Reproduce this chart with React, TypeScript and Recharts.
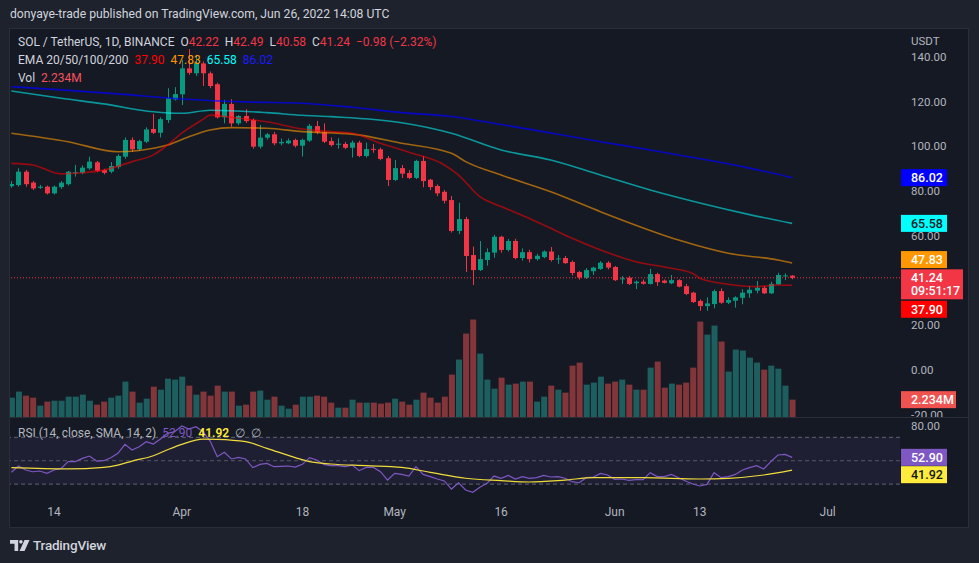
import React from 'react';
import { ComposedChart, Bar, Line, XAxis, YAxis, ReferenceLine, ReferenceArea } from 'recharts';

const FONT = 'Roboto, "Noto Sans", Arial, sans-serif';
const TEXT = '#d1d4dc';
const AXIS = '#b2b5be';
const BG = '#151924';
const FRAME = '#1e222d';
const BORDER = '#2a2e39';
const UP = '#089981';
const DOWN = '#f23645';
const VOL_UP = 'rgba(38,166,154,0.5)';
const VOL_DOWN = 'rgba(239,83,80,0.5)';

// daily candles, index 0 = 8 Mar 2022 ... 110 = 26 Jun 2022
const opens = [
  82.2, 82.7, 88.7, 83.8, 81.5, 82.0, 79.0, 81.8, 83.1, 88.0,
  88.2, 90.2, 92.9, 89.4, 88.7, 90.9, 95.4, 102.9, 98.7, 102.1,
  107.8, 106.1, 111.8, 121.0, 123.3, 134.9, 132.7, 137.1, 132.7, 127.8,
  113.0, 119.0, 110.3, 113.6, 111.8, 99.9, 103.9, 105.4, 101.4, 101.4,
  102.9, 100.3, 102.6, 109.1, 106.3, 102.4, 101.0, 101.1, 99.4, 101.7,
  95.7, 98.9, 98.7, 94.7, 85.0, 90.3, 88.1, 85.9, 93.5, 85.1,
  82.3, 79.7, 76.0, 62.2, 67.5, 51.4, 44.7, 49.2, 52.5, 59.6,
  53.7, 57.7, 50.1, 52.7, 49.6, 50.5, 53.0, 49.5, 50.1, 48.3,
  43.8, 41.3, 44.2, 45.2, 48.0, 46.1, 40.6, 41.3, 38.8, 39.5,
  38.5, 42.9, 40.0, 38.8, 40.2, 37.5, 34.6, 30.9, 28.6, 29.5,
  35.3, 30.1, 31.0, 32.3, 34.3, 35.5, 36.8, 34.3, 38.3, 42.0,
  42.22,
];
const highs = [
  84.5, 90.2, 89.5, 84.5, 82.8, 82.5, 82.5, 84.5, 89.0, 91.7,
  91.5, 95.4, 93.5, 90.0, 93.0, 96.5, 104.0, 104.0, 103.0, 108.5,
  114.5, 113.0, 126.0, 126.5, 138.6, 143.5, 140.9, 138.0, 133.5, 128.5,
  120.8, 121.1, 114.0, 116.6, 112.5, 109.6, 106.0, 106.5, 103.5, 103.5,
  103.5, 103.5, 110.0, 111.4, 110.3, 104.0, 103.6, 102.0, 102.6, 102.5,
  101.7, 101.1, 99.4, 95.7, 93.9, 91.7, 89.4, 94.0, 95.7, 85.5,
  83.0, 80.5, 77.8, 74.8, 68.5, 55.2, 57.7, 54.4, 60.5, 60.0,
  58.6, 58.7, 54.4, 53.8, 52.0, 53.5, 55.0, 51.4, 51.0, 49.0,
  44.3, 45.6, 46.2, 48.7, 48.7, 46.5, 42.0, 42.0, 40.0, 40.5,
  45.2, 43.5, 40.5, 42.5, 40.6, 38.5, 35.0, 31.6, 32.5, 36.0,
  36.5, 32.5, 33.0, 36.1, 37.6, 39.8, 37.6, 39.5, 43.5, 43.2,
  42.49,
];
const lows = [
  81.5, 82.0, 82.0, 80.5, 81.0, 78.5, 78.5, 81.0, 82.5, 86.5,
  87.5, 89.5, 88.5, 87.5, 88.0, 90.0, 94.5, 97.5, 98.0, 101.5,
  105.5, 104.0, 110.5, 120.5, 118.5, 132.0, 131.5, 127.0, 126.0, 112.5,
  110.3, 108.8, 109.5, 110.5, 99.0, 99.0, 103.0, 100.5, 100.5, 101.0,
  99.5, 95.5, 102.0, 105.5, 101.5, 99.9, 99.0, 98.8, 95.0, 95.2,
  95.0, 97.2, 93.8, 82.3, 84.5, 85.9, 85.4, 85.4, 81.7, 80.5,
  77.8, 74.5, 61.5, 60.8, 43.8, 38.0, 44.3, 46.7, 50.2, 52.5,
  53.0, 49.5, 48.9, 48.1, 48.9, 50.0, 48.5, 47.5, 47.5, 42.3,
  40.4, 40.7, 42.5, 44.8, 45.0, 39.8, 38.5, 38.0, 36.2, 38.2,
  38.2, 37.6, 38.7, 38.4, 37.0, 33.5, 30.0, 26.5, 26.5, 27.6,
  29.6, 29.5, 27.9, 29.4, 32.3, 34.3, 34.0, 34.0, 38.0, 40.2,
  40.58,
];
const closes = [
  83.2, 88.7, 83.1, 81.2, 82.0, 79.0, 82.0, 83.8, 88.7, 88.4,
  90.5, 93.2, 89.1, 88.2, 91.2, 95.7, 102.9, 98.7, 102.4, 107.6,
  106.1, 112.2, 121.5, 123.4, 134.9, 132.9, 137.4, 132.7, 127.0, 113.0,
  119.0, 110.3, 113.6, 111.3, 99.9, 103.9, 105.4, 101.4, 102.0, 102.6,
  100.3, 102.9, 109.2, 106.3, 102.1, 100.6, 101.2, 99.4, 101.7, 95.7,
  98.8, 98.5, 94.4, 85.0, 90.3, 87.8, 85.9, 93.5, 84.5, 81.8,
  79.0, 75.7, 62.2, 67.5, 51.0, 44.7, 49.6, 52.7, 59.6, 53.7,
  57.7, 50.1, 52.7, 49.6, 51.1, 53.0, 49.2, 49.9, 47.8, 43.4,
  41.4, 44.7, 45.8, 48.0, 45.8, 40.2, 41.0, 38.5, 39.5, 38.6,
  42.9, 39.3, 39.0, 40.2, 37.3, 34.0, 30.4, 28.6, 29.8, 35.3,
  30.1, 31.3, 32.5, 34.6, 35.9, 36.8, 34.3, 38.5, 42.5, 42.3,
  41.24,
];
// volume, millions
const volumes = [
  2.49, 3.27, 2.75, 2.49, 1.46, 1.98, 2.1, 2.1, 2.62, 2.62,
  2.88, 2.1, 1.59, 1.98, 2.49, 2.75, 4.56, 3.27, 1.85, 2.36,
  3.91, 3.52, 4.94, 4.82, 5.2, 4.04, 2.88, 3.27, 2.75, 4.04,
  3.27, 3.27, 1.46, 1.59, 3.27, 3.4, 2.23, 2.62, 1.46, 1.07,
  1.59, 2.62, 2.62, 2.75, 2.62, 1.85, 1.2, 1.2, 2.23, 1.85,
  1.85, 1.85, 1.72, 1.85, 2.36, 1.98, 1.59, 2.23, 3.14, 2.49,
  1.85, 2.62, 5.46, 7.4, 10.75, 12.56, 8.17, 4.82, 3.65, 5.07,
  4.17, 4.3, 4.56, 4.56, 1.98, 2.62, 4.04, 3.52, 3.14, 6.62,
  7.01, 4.17, 4.43, 5.2, 4.3, 4.56, 4.82, 4.17, 3.52, 3.52,
  6.36, 7.14, 3.78, 4.3, 4.17, 4.43, 6.36, 12.3, 10.62, 11.78,
  9.72, 5.85, 8.69, 8.56, 7.65, 7.01, 6.1, 6.62, 6.23, 4.04,
  2.234,
];
const rsiValues = [
  40.1, 45.5, 42.1, 40.6, 41.2, 39.2, 42.1, 43.5, 49.2, 49.2,
  52.0, 54.0, 49.7, 50.0, 52.6, 56.3, 64.0, 59.1, 62.0, 66.3,
  64.3, 68.5, 73.4, 74.8, 79.7, 77.1, 79.1, 74.8, 66.8, 53.4,
  57.2, 51.5, 52.9, 51.5, 44.1, 46.9, 47.7, 44.9, 45.2, 45.5,
  44.6, 46.9, 52.6, 50.6, 46.9, 45.8, 45.8, 44.9, 46.3, 41.5,
  44.3, 44.3, 40.6, 33.5, 39.2, 38.3, 36.9, 44.9, 38.3, 36.4,
  34.4, 32.7, 25.8, 31.2, 25.0, 23.0, 27.4, 30.7, 36.9, 35.0,
  37.5, 34.4, 36.4, 35.0, 35.5, 37.5, 36.1, 36.4, 35.0, 32.1,
  31.2, 35.5, 36.1, 39.2, 37.8, 34.1, 34.4, 33.2, 33.8, 33.8,
  39.8, 36.4, 36.4, 38.3, 35.5, 32.7, 30.1, 28.4, 29.8, 39.8,
  35.5, 36.4, 38.3, 42.1, 44.1, 45.8, 42.9, 49.2, 54.9, 55.4,
  52.9,
];
// [day, value]
const ema20Pts = [
  [0, 92.4], [3, 91.7], [7, 87.7], [10, 88.2], [13, 89.4], [17, 93.2], [20, 96.2],
  [22, 100.6], [24, 105.9], [27, 112.1], [28, 114.0], [31, 113.0], [36, 111.0],
  [41, 107.8], [45, 106.6], [48, 105.9], [52, 101.4], [56, 97.4], [61, 91.7],
  [63, 87.2], [66, 77.5], [69, 73.1], [73, 67.8], [76, 63.4], [79, 58.9],
  [83, 53.7], [88, 48.4], [93, 45.5], [96, 43.2], [97, 41.0], [100, 38.8],
  [103, 37.6], [105, 37.3], [108, 38.0], [110, 37.9],
];
const ema50Pts = [
  [0, 105.9], [8, 102.1], [15, 97.6], [18, 98.2], [22, 100.6], [25, 104.3], [28, 107.3],
  [31, 108.4], [36, 108.1], [41, 106.6], [48, 105.5], [55, 101.4], [62, 96.9],
  [64, 93.2], [69, 87.2], [76, 79.7], [83, 70.8], [86, 67.1], [94, 58.1],
  [101, 52.2], [108, 49.2], [110, 47.83],
];
const ema100Pts = [
  [0, 124.8], [7, 121.5], [13, 119.0], [20, 115.5], [24, 114.8], [28, 116.2], [36, 115.1],
  [41, 113.9], [45, 113.3], [55, 110.6], [62, 105.9], [69, 98.4], [76, 93.9],
  [83, 87.2], [90, 80.5], [97, 74.7], [104, 69.5], [110, 65.58],
];
const ema200Pts = [
  [0, 126.7], [7, 125.3], [15, 123.5], [24, 121.2], [34, 119.8], [41, 119.3], [48, 117.5],
  [55, 115.1], [62, 113.4], [69, 109.8], [76, 106.0], [83, 102.1], [90, 98.4],
  [97, 94.5], [104, 90.3], [110, 86.02],
];
const rsiMaPts = [
  [0, 44.1], [8, 43.0], [13, 44.3], [15, 46.3], [17, 49.7], [20, 54.3], [22, 59.4],
  [24, 64.0], [27, 68.5], [29, 68.3], [33, 66.3], [36, 60.6], [40, 52.6], [42, 49.2],
  [45, 47.2], [50, 45.8], [55, 44.3], [59, 40.1], [64, 35.0], [69, 33.0], [73, 31.8],
  [78, 33.5], [82, 35.5], [89, 35.5], [97, 34.4], [101, 35.0], [106, 37.8], [110, 41.92],
];
const tickDays = [6, 24, 41, 54, 69, 85, 97, 115];
const tickNames = ['14', 'Apr', '18', 'May', '16', 'Jun', '13', 'Jul'];
const priceTicks = [-20, 0, 20, 60, 80, 100, 120, 140];

const X_DOMAIN = [-0.2, 125.2];

const lookup = (pts: number[][], i: number) => {
  const hit = pts.find((p) => p[0] === i);
  return hit ? hit[1] : null;
};

const rows = opens.map((o, i) => ({
  i,
  o,
  h: highs[i],
  l: lows[i],
  c: closes[i],
  v: volumes[i],
  ema20: lookup(ema20Pts, i),
  ema50: lookup(ema50Pts, i),
  ema100: lookup(ema100Pts, i),
  ema200: lookup(ema200Pts, i),
  rsi: rsiValues[i],
  ma: lookup(rsiMaPts, i),
}));

function Candle(props: any) {
  const { x, y, width, height, payload } = props;
  if (!payload) return null;
  const { o, h, l, c } = payload;
  const full = Math.abs(height);
  const top = Math.min(y, y + height);
  const k = full / (h - l || 1);
  const color = c >= o ? UP : DOWN;
  const bTop = top + (h - Math.max(o, c)) * k;
  const bH = Math.max(1, Math.abs(o - c) * k);
  const cx = Math.round(x + width / 2) + 0.5;
  return (
    <g>
      <line x1={cx} x2={cx} y1={top} y2={top + full} stroke={color} strokeWidth={1} />
      <rect x={cx - width / 2} y={bTop} width={width} height={bH} fill={color} />
    </g>
  );
}

function VolBar(props: any) {
  const { x, y, width, height, payload } = props;
  if (!payload) return null;
  return <rect x={x} y={y} width={width} height={height} fill={payload.c >= payload.o ? VOL_UP : VOL_DOWN} />;
}

function Tag(props: any) {
  const { viewBox, text, sub, bg, color = '#ffffff', dy = 0, w = 46 } = props;
  if (!viewBox) return null;
  const x = viewBox.x + viewBox.width + 1;
  const cy = viewBox.y + dy;
  const h = sub ? 30 : 17;
  return (
    <g>
      <rect x={x} y={cy - 8.5} width={w} height={h} fill={bg} />
      <text x={x + 10} y={cy} dominantBaseline="central" fill={color} fontSize={12.5} fontFamily={FONT} fontWeight={500}>
        {text}
      </text>
      {sub ? (
        <text x={x + 10} y={cy + 13} dominantBaseline="central" fill={color} fontSize={12.5} fontFamily={FONT} fontWeight={500}>
          {sub}
        </text>
      ) : null}
    </g>
  );
}

function Logo() {
  return (
    <svg width={20} height={11} viewBox="0 0 22 12">
      <path d="M0 0 H9 V12 H5 V4 H0 Z" fill={TEXT} />
      <circle cx={12} cy={2} r={2} fill={TEXT} />
      <path d="M16 0 H21.5 L16 12 H10.5 Z" fill={TEXT} />
    </svg>
  );
}

const red = { color: DOWN };

export default function App() {
  const axisTick = { fill: AXIS, fontSize: 11.5, fontFamily: FONT };
  return (
    <div style={{ position: 'fixed', left: 0, top: 0, width: 979, height: 563, background: FRAME, fontFamily: FONT, overflow: 'hidden' }}>
      <div style={{ position: 'absolute', left: 10, top: 0, height: 28, lineHeight: '28px', fontSize: 12.2, color: TEXT }}>
        donyaye-trade published on TradingView.com, Jun 26, 2022 14:08 UTC
      </div>

      <div style={{ position: 'absolute', left: 9, top: 28, width: 958, height: 498, background: BG, border: `1px solid ${BORDER}` }} />
      <div style={{ position: 'absolute', left: 10, top: 417, width: 958, height: 1, background: BORDER }} />

      {/* price pane */}
      <div style={{ position: 'absolute', left: 10, top: 29 }}>
        <ComposedChart width={958} height={388} data={rows} margin={{ top: 0, right: 0, bottom: 0, left: 0 }}>
          <XAxis type="number" dataKey="i" domain={X_DOMAIN} hide allowDataOverflow />
          <YAxis
            yAxisId="p"
            orientation="right"
            width={68}
            domain={[-21, 152.5]}
            ticks={priceTicks}
            interval={0}
            allowDataOverflow
            axisLine={false}
            tickLine={false}
            tickSize={0}
            tickMargin={11}
            tick={axisTick}
            tickFormatter={(v: number) => v.toFixed(2)}
          />
          <ReferenceLine yAxisId="p" y={41.24} stroke={DOWN} strokeDasharray="1 2" />
          <Line yAxisId="p" dataKey="ema200" type="monotone" connectNulls dot={false} stroke="rgba(0,0,255,0.72)" strokeWidth={1.6} isAnimationActive={false} />
          <Line yAxisId="p" dataKey="ema100" type="monotone" connectNulls dot={false} stroke="rgba(0,255,255,0.55)" strokeWidth={1.6} isAnimationActive={false} />
          <Line yAxisId="p" dataKey="ema50" type="monotone" connectNulls dot={false} stroke="rgba(255,152,0,0.6)" strokeWidth={1.6} isAnimationActive={false} />
          <Line yAxisId="p" dataKey="ema20" type="monotone" connectNulls dot={false} stroke="rgba(255,0,0,0.55)" strokeWidth={1.6} isAnimationActive={false} />
          <Bar yAxisId="p" dataKey={(d: any) => [d.l, d.h]} barSize={5} shape={<Candle />} isAnimationActive={false} />
          <ReferenceLine yAxisId="p" y={86.02} stroke="none" label={<Tag text="86.02" bg="#0000ff" />} />
          <ReferenceLine yAxisId="p" y={65.58} stroke="none" label={<Tag text="65.58" bg="#00ffff" color="#131722" />} />
          <ReferenceLine yAxisId="p" y={47.83} stroke="none" label={<Tag text="47.83" bg="#ff9800" dy={-3.5} />} />
          <ReferenceLine yAxisId="p" y={37.9} stroke="none" label={<Tag text="37.90" bg="#ff0000" dy={24} />} />
          <ReferenceLine yAxisId="p" y={41.24} stroke="none" label={<Tag text="41.24" sub="09:51:17" bg={DOWN} w={62} />} />
        </ComposedChart>
      </div>

      {/* volume overlay */}
      <div style={{ position: 'absolute', left: 10, top: 29 }}>
        <ComposedChart width={958} height={388} data={rows} margin={{ top: 0, right: 68, bottom: 0, left: 0 }}>
          <XAxis type="number" dataKey="i" domain={X_DOMAIN} hide allowDataOverflow />
          <YAxis yAxisId="v" hide domain={[0, 50]} allowDataOverflow />
          <Bar yAxisId="v" dataKey="v" barSize={6} shape={<VolBar />} isAnimationActive={false} />
          <ReferenceLine yAxisId="v" y={2.234} stroke="none" label={<Tag text="2.234M" bg="#ef5350" w={55} />} />
        </ComposedChart>
      </div>

      {/* rsi pane */}
      <div style={{ position: 'absolute', left: 10, top: 418 }}>
        <ComposedChart width={958} height={109} data={rows} margin={{ top: 2, right: 0, bottom: 0, left: 0 }}>
          <XAxis
            type="number"
            dataKey="i"
            domain={X_DOMAIN}
            allowDataOverflow
            ticks={tickDays}
            interval={0}
            height={30}
            axisLine={false}
            tickLine={false}
            tickSize={0}
            tickMargin={10}
            tick={{ fill: AXIS, fontSize: 12, fontFamily: FONT }}
            tickFormatter={(v: number) => tickNames[tickDays.indexOf(v)] ?? ''}
          />
          <YAxis
            orientation="right"
            width={68}
            domain={[19, 84.8]}
            ticks={[80]}
            interval={0}
            allowDataOverflow
            axisLine={false}
            tickLine={false}
            tickSize={0}
            tickMargin={11}
            tick={axisTick}
            tickFormatter={(v: number) => v.toFixed(2)}
          />
          <ReferenceArea y1={30} y2={70} fill="rgba(126,87,194,0.1)" fillOpacity={1} stroke="none" />
          <ReferenceLine y={70} stroke="#787b86" strokeOpacity={0.75} strokeDasharray="4 3" />
          <ReferenceLine y={50} stroke="#787b86" strokeOpacity={0.6} strokeDasharray="4 3" />
          <ReferenceLine y={30} stroke="#787b86" strokeOpacity={0.75} strokeDasharray="4 3" />
          <Line dataKey="rsi" dot={false} stroke="#7e57c2" strokeWidth={1.2} isAnimationActive={false} />
          <Line dataKey="ma" type="monotone" connectNulls dot={false} stroke="#f0dc3a" strokeWidth={1.2} isAnimationActive={false} />
          <ReferenceLine y={52.9} stroke="none" label={<Tag text="52.90" bg="#7e57c2" />} />
          <ReferenceLine y={41.92} stroke="none" label={<Tag text="41.92" bg="#ffeb3b" color="#131722" dy={4.5} />} />
        </ComposedChart>
      </div>

      {/* legends */}
      <div style={{ position: 'absolute', left: 18, top: 33, fontSize: 12, lineHeight: '18px', color: TEXT, whiteSpace: 'pre' }}>
        <div>
          SOL / TetherUS, 1D, BINANCE{'  '}O<span style={red}>42.22</span>{'  '}H<span style={red}>42.49</span>{'  '}L
          <span style={red}>40.58</span>{'  '}C<span style={red}>41.24</span>{'  '}
          <span style={red}>−0.98 (−2.32%)</span>
        </div>
        <div>
          EMA 20/50/100/200{'  '}<span style={{ color: '#ff0000' }}>37.90</span>{'  '}
          <span style={{ color: '#ff9800' }}>47.83</span>{'  '}<span style={{ color: '#00ffff' }}>65.58</span>{'  '}
          <span style={{ color: '#1a1aff' }}>86.02</span>
        </div>
        <div>
          Vol{'  '}<span style={{ color: '#f7525f' }}>2.234M</span>
        </div>
      </div>
      <div style={{ position: 'absolute', left: 911, top: 32, fontSize: 11.5, lineHeight: '18px', color: AXIS }}>USDT</div>
      <div style={{ position: 'absolute', left: 18, top: 424, fontSize: 12, lineHeight: '18px', color: AXIS, whiteSpace: 'pre' }}>
        RSI (14, close, SMA, 14, 2){'  '}<span style={{ color: '#7e57c2' }}>52.90</span>{'  '}
        <span style={{ color: '#ffeb3b', fontWeight: 600 }}>41.92</span>{'  '}∅{'  '}∅
      </div>

      {/* footer */}
      <div style={{ position: 'absolute', left: 10, top: 536, height: 18, display: 'flex', alignItems: 'center', gap: 3 }}>
        <Logo />
        <span style={{ fontSize: 13.5, color: TEXT, fontWeight: 500, letterSpacing: -0.2 }}>TradingView</span>
      </div>
    </div>
  );
}
